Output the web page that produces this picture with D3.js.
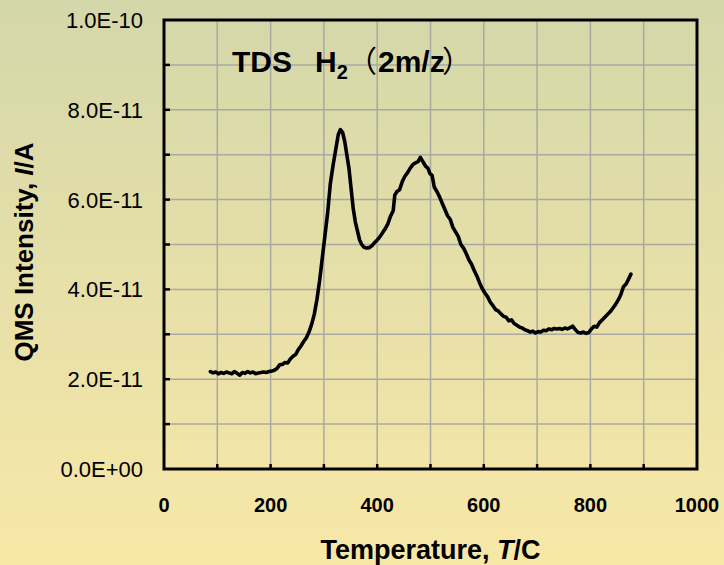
<!DOCTYPE html>
<html>
<head>
<meta charset="utf-8">
<script src="https://cdn.jsdelivr.net/npm/d3@7"></script>
<style>
  html, body { margin: 0; padding: 0; }
  body { width: 724px; height: 565px; overflow: hidden; }
  text { font-family: Arial, "Liberation Sans", sans-serif; }
</style>
</head>
<body>
<svg id="chart" width="724" height="565"></svg>
<script>
// temperature (C) and QMS intensity (x1E-11 A)
var temps = [87, 92, 97, 102, 107, 112, 117, 122, 127, 132, 137, 142, 147, 152, 157, 162, 167, 172, 177, 182,
  187, 192, 197, 202, 207, 212, 217, 222, 227, 232, 237, 242, 247, 252, 257, 262, 267, 272, 277, 282,
  287, 292, 297, 302, 307, 312, 317, 322, 327, 331, 335, 339, 343, 347, 351, 355, 359, 363, 367, 371,
  375, 380, 385, 390, 395, 400, 405, 410, 415, 420, 425, 430, 433, 437, 442, 447, 452, 457, 462, 467,
  472, 477, 481, 484, 487, 491, 495, 499, 503, 507, 512, 517, 522, 527, 532, 537, 542, 547, 552, 557,
  562, 567, 572, 577, 582, 587, 592, 597, 602, 607, 612, 617, 622, 627, 632, 637, 642, 647, 652, 657,
  662, 667, 672, 677, 682, 687, 692, 697, 702, 707, 712, 717, 722, 727, 732, 737, 742, 747, 752, 757,
  762, 767, 772, 777, 782, 787, 792, 797, 802, 807, 812, 817, 822, 827, 832, 837, 842, 847, 852, 857,
  862, 867, 872, 876];
var intensity = [2.17, 2.14, 2.16, 2.12, 2.15, 2.13, 2.16, 2.14, 2.12, 2.17, 2.13, 2.09, 2.15, 2.13, 2.17, 2.14, 2.16, 2.12, 2.14, 2.15,
  2.16, 2.15, 2.17, 2.18, 2.20, 2.24, 2.32, 2.33, 2.37, 2.36, 2.45, 2.51, 2.55, 2.66, 2.74, 2.84, 2.92, 3.05, 3.22, 3.45,
  3.78, 4.20, 4.70, 5.20, 5.70, 6.35, 6.75, 7.10, 7.45, 7.56, 7.50, 7.30, 7.00, 6.70, 6.25, 5.80, 5.50, 5.30, 5.10, 5.00,
  4.94, 4.92, 4.93, 4.97, 5.04, 5.10, 5.17, 5.26, 5.35, 5.46, 5.63, 5.75, 6.10, 6.18, 6.22, 6.40, 6.52, 6.60, 6.70, 6.78,
  6.82, 6.85, 6.94, 6.88, 6.82, 6.74, 6.70, 6.58, 6.54, 6.28, 6.18, 6.06, 5.92, 5.78, 5.64, 5.56, 5.38, 5.28, 5.18, 5.00,
  4.92, 4.80, 4.66, 4.56, 4.42, 4.30, 4.15, 4.02, 3.92, 3.84, 3.72, 3.64, 3.55, 3.52, 3.46, 3.40, 3.38, 3.30, 3.32, 3.24,
  3.20, 3.16, 3.14, 3.10, 3.08, 3.05, 3.07, 3.03, 3.06, 3.05, 3.09, 3.08, 3.12, 3.10, 3.13, 3.12, 3.13, 3.11, 3.14, 3.12,
  3.15, 3.18, 3.10, 3.04, 3.03, 3.05, 3.02, 3.04, 3.12, 3.18, 3.16, 3.26, 3.32, 3.38, 3.44, 3.50, 3.58, 3.66, 3.76, 3.88,
  4.06, 4.12, 4.24, 4.34];

var xTickLabels = [0, 200, 400, 600, 800, 1000];
var yTickLabels = ["0.0E+00", "2.0E-11", "4.0E-11", "6.0E-11", "8.0E-11", "1.0E-10"];

var svg = d3.select("#chart");
var margin = {left: 164, right: 27, top: 20, bottom: 96};
var width = 724 - margin.left - margin.right,
    height = 565 - margin.top - margin.bottom;

// background gradient, greenish on top, yellow at the bottom
var defs = svg.append("defs");
var grad = defs.append("linearGradient").attr("id", "bg")
    .attr("x1", 0).attr("y1", 0).attr("x2", 0).attr("y2", 1);
grad.append("stop").attr("offset", "0%").attr("stop-color", "#d4d7aa");
grad.append("stop").attr("offset", "100%").attr("stop-color", "#f8e8a7");
svg.append("rect").attr("width", 724).attr("height", 565).attr("fill", "url(#bg)");

var x = d3.scaleLinear().domain([0, 1000]).range([0, width]);
var y = d3.scaleLinear().domain([0, 10]).range([height, 0]);   // units of 1E-11 A

var g = svg.append("g").attr("transform", "translate(" + margin.left + "," + margin.top + ")");

// grid
g.append("g").selectAll("line").data(d3.range(100, 1000, 100)).enter().append("line")
    .attr("x1", d => x(d)).attr("x2", d => x(d))
    .attr("y1", 0).attr("y2", height)
    .attr("stroke", "#a9a9a2").attr("stroke-width", 1.5);
g.append("g").selectAll("line").data(d3.range(1, 10)).enter().append("line")
    .attr("x1", 0).attr("x2", width)
    .attr("y1", d => y(d)).attr("y2", d => y(d))
    .attr("stroke", "#a9a9a2").attr("stroke-width", 1.5);

// data trace
var line = d3.line()
    .x((d, i) => x(temps[i]))
    .y(d => y(d));
g.append("path").datum(intensity)
    .attr("d", line)
    .attr("fill", "none")
    .attr("stroke", "#000")
    .attr("stroke-width", 3.6)
    .attr("stroke-linejoin", "round")
    .attr("stroke-linecap", "round");

// frame
g.append("rect").attr("width", width).attr("height", height)
    .attr("fill", "none").attr("stroke", "#000").attr("stroke-width", 3);

// inward ticks
g.append("g").selectAll("line").data(d3.range(100, 1000, 100)).enter().append("line")
    .attr("x1", d => x(d)).attr("x2", d => x(d))
    .attr("y1", height).attr("y2", height - 5)
    .attr("stroke", "#000").attr("stroke-width", 2.5);
g.append("g").selectAll("line").data(d3.range(1, 10)).enter().append("line")
    .attr("x1", 0).attr("x2", 6)
    .attr("y1", d => y(d)).attr("y2", d => y(d))
    .attr("stroke", "#000").attr("stroke-width", 2.5);

// tick labels
g.append("g").selectAll("text").data(xTickLabels).enter().append("text")
    .attr("x", d => x(d)).attr("y", height + 43)
    .attr("text-anchor", "middle")
    .attr("font-size", "20px").attr("font-weight", "bold")
    .text(d => d);
g.append("g").selectAll("text").data(yTickLabels).enter().append("text")
    .attr("x", -21).attr("y", (d, i) => y(i * 2))
    .attr("dy", "0.36em")
    .attr("text-anchor", "end")
    .attr("font-size", "22px")
    .text(d => d);

// axis titles
var xt = svg.append("text")
    .attr("x", margin.left + width / 2).attr("y", 559)
    .attr("text-anchor", "middle")
    .attr("font-size", "27px").attr("font-weight", "bold");
xt.append("tspan").text("Temperature, ");
xt.append("tspan").attr("font-style", "italic").text("T");
xt.append("tspan").text("/C");

var yt = svg.append("text")
    .attr("transform", "translate(33,252) rotate(-90)")
    .attr("text-anchor", "middle")
    .attr("font-size", "26px").attr("font-weight", "bold");
yt.append("tspan").text("QMS Intensity, ");
yt.append("tspan").attr("font-style", "italic").text("I");
yt.append("tspan").text("/A");

// chart title inside plot
var tt = svg.append("text")
    .attr("x", 232).attr("y", 72)
    .attr("font-size", "30px").attr("font-weight", "bold");
tt.append("tspan").text("TDS");
tt.append("tspan").attr("x", 315).text("H");
tt.append("tspan").attr("font-size", "20px").attr("dy", 7).text("2");
tt.append("tspan").attr("x", 347).attr("dy", -7)
    .attr("font-family", "'Noto Sans CJK JP'").attr("font-weight", "normal").text("（");
tt.append("tspan").attr("x", 378).text("2m/z");
tt.append("tspan").attr("x", 442)
    .attr("font-family", "'Noto Sans CJK JP'").attr("font-weight", "normal").text("）");
</script>
</body>
</html>
